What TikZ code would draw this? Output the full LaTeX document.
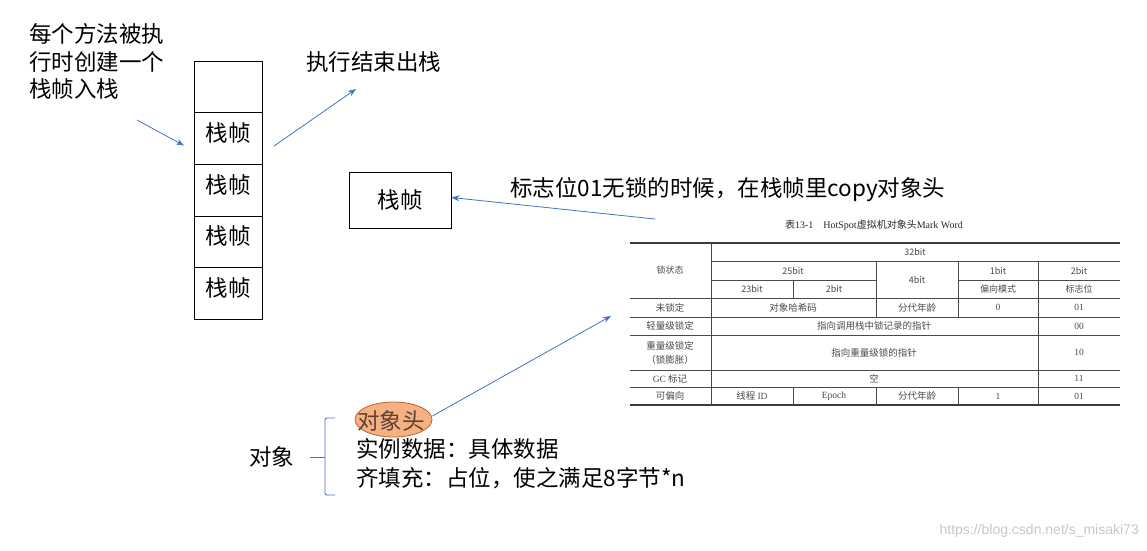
\documentclass[tikz,border=0pt]{standalone}
\usepackage{fontspec}
\setmainfont{Noto Sans CJK SC}
\newfontfamily\cjk{Noto Sans CJK SC}
\newfontfamily\tser{Liberation Serif}
\newfontfamily\wsans{Liberation Sans}
\usetikzlibrary{arrows.meta,shapes.geometric}
\definecolor{lineblue}{HTML}{4472C4}
\definecolor{ellfill}{HTML}{F4B183}
\definecolor{elldraw}{HTML}{C0622A}
\definecolor{elltext}{HTML}{5E3F30}
\definecolor{tgray}{HTML}{4A4A4A}
\tikzset{
  big/.style={font=\fontsize{22.5}{27.5}\selectfont, inner sep=0pt},
  stackbox/.style={draw, line width=0.9pt, minimum width=68pt, minimum height=51.6pt, inner sep=0pt, font=\fontsize{22.5}{27}\selectfont, text depth=13pt},
  conn/.style={draw=lineblue, line width=0.8pt, -{Stealth[length=8pt,width=6pt]}},
  th/.style={font=\fontsize{9}{11}\selectfont, text=tgray, inner sep=0pt},
  td/.style={font=\fontsize{9.5}{14}\selectfont, text=tgray, inner sep=0pt, align=center},
  tline/.style={draw=tgray, line width=0.6pt},
  tthick/.style={draw=tgray!80!black, line width=1.4pt}
}
\begin{document}
\begin{tikzpicture}[x=1pt,y=-1pt]
\useasboundingbox (0,0) rectangle (1147,550);
% left text
\node[big, anchor=west, align=left] (intro) at (29,61.5) {每个方法被执\\行时创建一个\\栈帧入栈};
% stack
\node[stackbox] (s0) at (228,87) {};
\node[stackbox] (s1) at (228,138.6) {栈帧};
\node[stackbox] (s2) at (228,190.2) {栈帧};
\node[stackbox] (s3) at (228,241.8) {栈帧};
\node[stackbox] (s4) at (228,293.4) {栈帧};
\coordinate (a1s) at (137,120);
\coordinate (a1e) at (184,145.5);
\draw[conn] (a1s) -- (a1e);
\coordinate (a2s) at (274,146);
\coordinate (a2e) at (356,89);
\draw[conn] (a2s) -- (a2e);
\node[big, anchor=west] (pop) at (306,62) {执行结束出栈};
% single frame
\node[draw, line width=0.9pt, minimum width=102pt, minimum height=56pt, inner sep=0pt, font=\fontsize{22.5}{27}\selectfont] (frame) at (400,200) {栈帧};
\node[big, anchor=west] (flag) at (510,190) {标志位01无锁的时候，在栈帧里copy对象头};
\coordinate (a3s) at (655,219);
\draw[conn] (a3s) -- (frame.east |- 0,197.5);
% table caption
\node[inner sep=0pt, text=black!85] (cap) at (874,225) {\fontsize{10}{12}\selectfont{\cjk 表}{\tser 13-1\quad HotSpot}{\cjk 虚拟机对象头}{\tser Mark Word}};
% table lines
\draw[tthick] (630,243) -- (1120,243);
\draw[tline] (711,261.5) -- (1120,261.5);
\draw[tline] (711,280) -- (876,280);
\draw[tline] (958,280) -- (1120,280);
\foreach \yy in {298,317,335,370,387} {\draw[tline] (630,\yy) -- (1120,\yy);}
\draw[tthick] (630,405) -- (1120,405);
\draw[tline] (711,243) -- (711,405);
\draw[tline] (793,280) -- (793,298);
\draw[tline] (793,387) -- (793,405);
\draw[tline] (876,261.5) -- (876,317);
\draw[tline] (876,387) -- (876,405);
\draw[tline] (958,261.5) -- (958,317);
\draw[tline] (958,387) -- (958,405);
\draw[tline] (1038,261.5) -- (1038,405);
% header texts
\node[th] (h0) at (670,270.5) {锁状态};
\node[th] (h1) at (915,252) {32bit};
\node[th] (h2) at (793,271) {25bit};
\node[th] (h3) at (917,280) {4bit};
\node[th] (h4) at (998,271) {1bit};
\node[th] (h5) at (1079,271) {2bit};
\node[th] (h6) at (752,289) {23bit};
\node[th] (h7) at (834,289) {2bit};
\node[th] (h8) at (998,289) {偏向模式};
\node[th] (h9) at (1079,289) {标志位};
% data rows
\node[td] (r1a) at (670,307.5) {\cjk 未锁定};
\node[td] (r1b) at (793,307.5) {\cjk 对象哈希码};
\node[td] (r1c) at (917,307.5) {\cjk 分代年龄};
\node[td] (r1d) at (998,307.5) {\tser 0};
\node[td] (r1e) at (1079,307.5) {\tser 01};
\node[td] (r2a) at (670,326) {\cjk 轻量级锁定};
\node[td] (r2b) at (874,326) {\cjk 指向调用栈中锁记录的指针};
\node[td] (r2e) at (1079,326) {\tser 00};
\node[td] (r3a) at (670,352.5) {\cjk 重量级锁定\\\cjk（锁膨胀）};
\node[td] (r3b) at (874,352.5) {\cjk 指向重量级锁的指针};
\node[td] (r3e) at (1079,352.5) {\tser 10};
\node[td] (r4a) at (670,378.5) {{\tser GC} {\cjk 标记}};
\node[td] (r4b) at (874,378.5) {\cjk 空};
\node[td] (r4e) at (1079,378.5) {\tser 11};
\node[td] (r5a) at (670,396) {\cjk 可偏向};
\node[td] (r5b) at (752,396) {{\cjk 线程} {\tser ID}};
\node[td] (r5c) at (834,396) {\tser Epoch};
\node[td] (r5d) at (917,396) {\cjk 分代年龄};
\node[td] (r5e) at (998,396) {\tser 1};
\node[td] (r5f) at (1079,396) {\tser 01};
% object section
\node[big, anchor=west] (obj) at (249,457) {对象};
\draw[lineblue, line width=0.9pt, rounded corners=2pt] (335,418) -- (325,418) -- (325,495) -- (335,495);
\draw[lineblue, line width=0.9pt] (310,457) -- (325,457);
\node[ellipse, draw=elldraw, line width=0.8pt, fill=ellfill, minimum width=77pt, minimum height=35pt, inner sep=0pt] (hdr) at (393.5,419.5) {};
\node[big, text=elltext] (hdrtext) at (391,421) {对象头};
\coordinate (tbl) at (611,316);
\draw[conn] (hdr.east |- 0,416) -- (tbl);
\node[big, anchor=west] (inst) at (356,449) {实例数据：具体数据};
\node[big, anchor=west] (pad) at (356,478) {齐填充：占位，使之满足8字节*n};
% watermark
\node[anchor=east, inner sep=0pt, text=black!22, font=\wsans\fontsize{14}{16}\selectfont] (wm) at (1139,531) {https://blog.csdn.net/s\_misaki73};
\end{tikzpicture}
\end{document}
